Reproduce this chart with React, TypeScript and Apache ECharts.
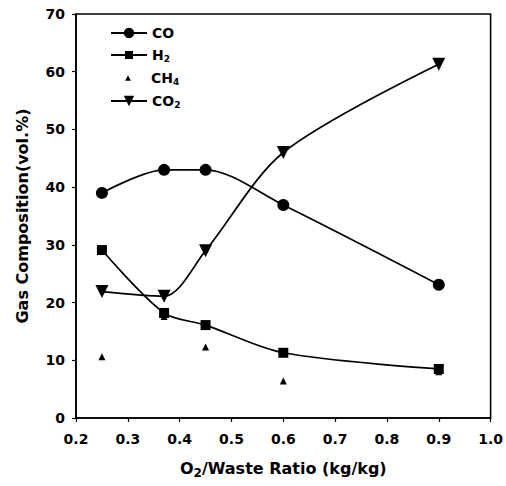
import React, { useEffect, useRef } from "react";
import * as echarts from "echarts";

const ratios = [0.25, 0.37, 0.45, 0.6, 0.9];
const coValues = [39, 43, 43, 36.9, 23.1];
const h2Values = [29.1, 18.2, 16.1, 11.3, 8.5];
const ch4Values = [10.6, 17.6, 12.3, 6.4, 8.0];
const co2Values = [21.9, 21.1, 29, 46, 61.3];

const seriesNames = ["CO", "H2", "CH4", "CO2"];
const legendLabels = ["{m|CO}", "{m|H}{s|2}", "{m|CH}{s|4}", "{m|CO}{s|2}"];

const pair = (ys: number[]) => ratios.map((x, i) => [x, ys[i]]);

const FONT = "'DejaVu Sans', Verdana, sans-serif";

export default function App() {
  const ref = useRef<HTMLDivElement>(null);
  useEffect(() => {
    if (!ref.current) return;
    const chart = echarts.init(ref.current, undefined, { renderer: "svg" });
    const lineStyle = { color: "#000", width: 1.7 };
    const itemStyle = { color: "#000" };
    const legendRich = {
      m: { fontFamily: FONT, fontWeight: "bold", fontSize: 14, color: "#000" },
      s: { fontFamily: FONT, fontWeight: "bold", fontSize: 9, color: "#000", padding: [8, 0, 0, 0] },
    };
    const legendTops = [26, 48, 71, 94];
    const legendHeights = [13, 10, 7, 13];
    const legends = seriesNames.map((name, i) => {
      const lg: any = {
        orient: "vertical",
        left: 110,
        top: legendTops[i],
        itemWidth: 36,
        itemHeight: legendHeights[i],
        padding: 0,
        formatter: () => legendLabels[i],
        textStyle: { rich: legendRich },
        data: [name],
      };
      if (name === "CH4") lg.lineStyle = { opacity: 0 };
      return lg;
    });
    chart.setOption({
      animation: false,
      backgroundColor: "#fff",
      grid: {
        left: 76,
        right: 15,
        top: 14,
        bottom: 68,
        show: true,
        borderColor: "#000",
        borderWidth: 1.6,
        backgroundColor: "transparent",
      },
      legend: legends,
      xAxis: {
        type: "value",
        min: 0.2,
        max: 1.0,
        interval: 0.1,
        name: "{m|O}{s|2}{m|/Waste Ratio (kg/kg)}",
        nameLocation: "middle",
        nameGap: 40,
        nameTextStyle: {
          rich: {
            m: { fontFamily: FONT, fontWeight: "bold", fontSize: 16, color: "#000" },
            s: { fontFamily: FONT, fontWeight: "bold", fontSize: 12, color: "#000", padding: [9, 0, 0, 0] },
          },
        },
        axisLine: { lineStyle: { color: "#000", width: 1.6 } },
        axisTick: { show: true, length: 4, lineStyle: { color: "#000", width: 1.2 } },
        axisLabel: {
          color: "#000",
          fontFamily: FONT,
          fontWeight: "bold",
          fontSize: 14,
          margin: 14,
          formatter: (v: number) => v.toFixed(1),
        },
        splitLine: { show: false },
      },
      yAxis: {
        type: "value",
        min: 0,
        max: 70,
        interval: 10,
        name: "Gas Composition(vol.%)",
        nameLocation: "middle",
        nameGap: 46,
        nameTextStyle: { fontFamily: FONT, fontWeight: "bold", fontSize: 16, color: "#000" },
        axisLine: { show: true, lineStyle: { color: "#000", width: 1.6 } },
        axisTick: { show: true, length: 4, lineStyle: { color: "#000", width: 1.2 } },
        axisLabel: { color: "#000", fontFamily: FONT, fontWeight: "bold", fontSize: 14, margin: 11 },
        splitLine: { show: false },
      },
      series: [
        {
          name: "CO",
          type: "line",
          data: pair(coValues),
          smooth: 0.3,
          symbol: "circle",
          symbolSize: 12,
          lineStyle,
          itemStyle,
        },
        {
          name: "H2",
          type: "line",
          data: pair(h2Values),
          smooth: 0.3,
          symbol: "rect",
          symbolSize: 10,
          lineStyle,
          itemStyle,
        },
        {
          name: "CH4",
          type: "line",
          data: pair(ch4Values),
          symbol: "triangle",
          symbolSize: 7,
          showSymbol: true,
          lineStyle: { color: "#000", width: 0, opacity: 0 },
          itemStyle,
        },
        {
          name: "CO2",
          type: "line",
          data: pair(co2Values),
          smooth: 0.3,
          symbol: "triangle",
          symbolRotate: 180,
          symbolSize: 13,
          lineStyle,
          itemStyle,
        },
      ],
    });
    return () => chart.dispose();
  }, []);
  return (
    <div
      ref={ref}
      style={{ position: "absolute", left: 0, top: 0, width: 506, height: 486 }}
    />
  );
}
